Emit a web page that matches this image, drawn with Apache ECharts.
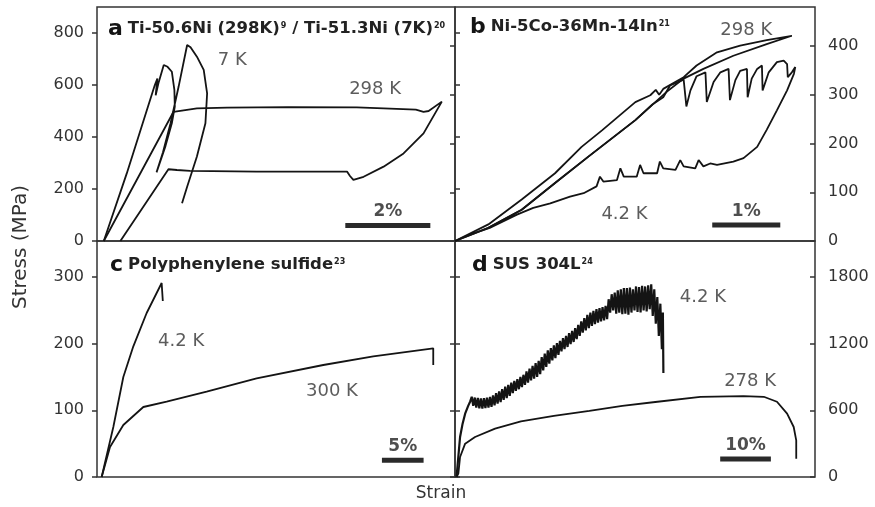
<!DOCTYPE html>
<html>
<head>
<meta charset="utf-8">
<script src="https://cdn.jsdelivr.net/npm/echarts@6/dist/echarts.min.js"></script>
<style>
  html, body { margin: 0; padding: 0; background: #fff; }
  #chart { width: 875px; height: 507px; }
</style>
</head>
<body>
<div id="chart"></div>
<script>
// tick labels of the four stress axes
const aTicks = [0, 200, 400, 600, 800];
const bTicks = [0, 100, 200, 300, 400];
const cTicks = [0, 100, 200, 300];
const dTicks = [0, 600, 1200, 1800];

// a: Ti-Ni, strain (%) / stress (MPa)
const a7K = [[0.16,0],[0.7,260],[1.36,600],[1.42,625],[1.38,560],[1.45,610],[1.57,677],[1.66,670],[1.76,651],[1.82,581],[1.83,517],[1.76,453],[1.61,365],[1.40,264],
  [1.55,340],[1.73,453],[1.92,594],[2.12,754],[2.20,745],[2.35,709],[2.51,658],[2.59,568],[2.55,453],[2.35,325],[2.12,209],[2.0,145]];
const a298K = [[0.16,0],[1.80,497],[1.84,504],[2.35,510],[3.06,513],[4.5,515],[6.11,514],[6.74,510],[7.5,505],[7.68,497],[7.80,500],[8.11,536],
  [7.68,414],[7.21,337],[6.74,286],[6.27,247],[6.03,235],[5.95,250],[5.88,267],[3.76,267],[2.19,270],[1.88,273],[1.68,276],[1.65,273],[0.55,0]];

// b: Ni-Co-Mn-In
const b298K = [[0,0],[0.49,34],[0.98,85],[1.47,139],[1.86,193],[2.16,227],[2.65,285],[2.87,299],[2.95,310],[3.0,300],[3.06,312],[3.36,336],[3.55,360],[3.85,387],[4.19,401],[4.58,412],[4.95,421],
  [4.58,404],[4.09,380],[3.65,353],[3.36,333],[3.11,306],[2.65,248],[1.96,173],[1.47,119],[0.98,64],[0.49,27],[0,0]];
const b42K = [[0,0],[0.49,27],[0.98,64],[1.47,119],[1.96,173],[2.65,248],[2.90,280],[3.06,295],
  [3.16,319],[3.36,331],[3.40,276],[3.46,309],[3.55,338],[3.68,346],[3.70,285],[3.80,326],[3.90,346],[4.02,353],[4.04,289],[4.12,330],[4.19,349],[4.29,353],[4.30,295],
  [4.36,333],[4.44,353],[4.51,360],[4.52,309],[4.61,346],[4.73,367],[4.83,370],[4.88,363],[4.89,336],[4.95,346],[5.00,357],
  [4.98,343],[4.88,309],[4.73,268],[4.58,228],[4.44,193],[4.24,170],[4.09,163],[3.85,156],[3.75,159],[3.65,153],[3.58,166],[3.53,149],[3.36,153],[3.31,166],[3.24,146],
  [3.06,149],[3.01,163],[2.97,139],[2.77,139],[2.72,156],[2.67,132],[2.48,132],[2.43,149],[2.38,125],[2.18,122],[2.13,132],[2.08,112],[1.89,98],[1.69,91],[1.40,77],
  [1.15,68],[0.91,54],[0.51,27],[0.22,13],[0,0]];

// c: polyphenylene sulfide
const c42K = [[0.56,0],[1.96,75],[3.16,150],[4.36,196],[5.96,246],[7.16,276],[7.76,291],[7.9,294],[7.9,264]];
const c300K = [[0.56,0],[1.56,45],[3.16,78],[5.56,105],[8.36,113],[13.16,128],[19.16,148],[27.16,168],[33.16,181],[40.36,193],[40.36,168]];

// d: SUS 304L
const d278K = [[0.3,0],[0.66,30],[1.0,180],[2.0,300],[3.95,360],[7.9,436],[13,500],[19.5,550],[26.5,595],[33,640],[39.5,675],[48.4,722],[56.9,728],[60.9,722],
  [63.5,677],[65.5,571],[66.8,450],[67.3,330],[67.3,164]];
const d42K = [[0.3,0],[0.5,100],[1.0,360],[1.5,480],[2.0,570],[2.6,640],[3.0,680],
  [3.3,722],[3.6,640],[3.9,715],[4.2,625],[4.5,712],[4.8,618],[5.1,708],[5.4,615],[5.7,710],[6.0,620],[6.3,715],[6.6,625],[6.9,720],[7.2,632],
  [7.5,735],[7.8,645],[8.1,755],[8.4,660],[8.7,770],[9.0,675],[9.3,790],[9.6,695],[9.9,813],[10.2,710],[10.5,830],[10.8,730],[11.1,850],[11.4,755],
  [11.7,865],[12.0,775],[12.3,880],[12.6,790],[12.9,900],[13.2,810],[13.5,920],[13.8,830],[14.1,950],[14.4,850],[14.7,975],[15.0,870],[15.3,1000],[15.6,885],
  [15.9,1025],[16.2,900],[16.5,1045],[16.8,925],[17.1,1080],[17.4,960],[17.7,1110],[18.0,990],[18.3,1140],[18.6,1020],[18.9,1160],[19.2,1050],[19.5,1185],
  [19.8,1070],[20.1,1205],[20.4,1100],[20.7,1225],[21.0,1130],[21.3,1250],[21.6,1150],[21.9,1270],[22.2,1170],[22.5,1295],[22.8,1195],[23.1,1315],[23.4,1215],
  [23.7,1340],[24.0,1240],[24.3,1370],[24.6,1270],[24.9,1400],[25.2,1300],[25.5,1430],[25.8,1320],[26.1,1460],[26.4,1340],[26.7,1480],[27.0,1360],[27.3,1495],
  [27.6,1375],[27.9,1510],[28.2,1390],[28.5,1520],[28.8,1400],[29.1,1530],[29.4,1410],[29.7,1540],[30.0,1420],[30.3,1600],[30.6,1480],[30.9,1645],[31.2,1500],
  [31.5,1660],[31.8,1470],[32.1,1680],[32.4,1480],[32.7,1690],[33.0,1465],[33.3,1700],[33.6,1470],[33.9,1700],[34.2,1460],[34.5,1705],[34.8,1480],[35.1,1690],
  [35.4,1500],[35.7,1715],[36.0,1485],[36.3,1710],[36.6,1480],[36.9,1720],[37.2,1500],[37.5,1715],[37.8,1490],[38.1,1725],[38.4,1510],[38.7,1735],[39.0,1450],
  [39.3,1690],[39.6,1380],[39.9,1620],[40.2,1270],[40.5,1560],[40.8,1150],[41.0,1480],[41.1,935]];

// scale bars (strain span) and their labels
const bars = [
  {panel: 0, text: '2%',  from: 5.84, to: 7.84, y: 60},
  {panel: 1, text: '1%',  from: 3.78, to: 4.78, y: 33},
  {panel: 2, text: '5%',  from: 34.2, to: 39.2, y: 25},
  {panel: 3, text: '10%', from: 52.3, to: 62.3, y: 163}
];
// temperature labels
const notes = [
  {panel: 0, text: '7 K',   x: 3.18, y: 696},
  {panel: 0, text: '298 K', x: 6.54, y: 585},
  {panel: 1, text: '298 K', x: 4.28, y: 433},
  {panel: 1, text: '4.2 K', x: 2.49, y: 54},
  {panel: 2, text: '4.2 K', x: 10.1, y: 203},
  {panel: 2, text: '300 K', x: 28.2, y: 129},
  {panel: 3, text: '4.2 K', x: 48.9, y: 1615},
  {panel: 3, text: '278 K', x: 58.2, y: 864}
];

const FONT = 'DejaVu Sans';
const INK = '#141414';
const FRAME = '#333';

let chart = echarts.init(document.getElementById('chart'));

let grids = [
  {left: 97, top: 7, width: 358, height: 234},
  {left: 455, top: 7, width: 360, height: 234},
  {left: 97, top: 241, width: 358, height: 236},
  {left: 455, top: 241, width: 360, height: 236}
];
grids.forEach(g => { g.show = true; g.borderColor = FRAME; g.borderWidth = 1.5; g.backgroundColor = 'transparent'; });

let xMax = [8.42, 5.29, 42.97, 71.0];
let yMax = [900, 480, 354, 2124];
let ticks = [aTicks, bTicks, cTicks, dTicks];

let xAxis = [];
let yAxis = [];
for (let i = 0; i < 4; i++) {
  xAxis.push({
    type: 'value', gridIndex: i, min: 0, max: xMax[i],
    axisLine: {show: false}, axisTick: {show: false}, axisLabel: {show: false}, splitLine: {show: false}
  });
  let labelSide = (i % 2 === 0) ? 'left' : 'right';
  for (let side of ['left', 'right']) {
    let labelled = side === labelSide;
    yAxis.push({
      type: 'value', gridIndex: i, position: side, min: 0, max: yMax[i],
      axisLine: {show: false},
      splitLine: {show: false},
      axisTick: {
        show: true, customValues: ticks[i], length: 5,
        inside: (side === 'right' && labelled),
        lineStyle: {color: FRAME, width: 1.5}
      },
      axisLabel: {
        show: labelled, customValues: ticks[i], margin: 13,
        formatter: v => String(v),
        fontFamily: FONT, fontSize: 16, color: '#333'
      }
    });
  }
}

let series = [];
function curve(panel, data, width) {
  series.push({
    type: 'line', xAxisIndex: panel, yAxisIndex: panel * 2 + (panel % 2),
    data: data, showSymbol: false, smooth: false, animation: false,
    lineStyle: {color: INK, width: width || 1.8}
  });
}
curve(0, a7K);
curve(0, a298K);
curve(1, b298K);
curve(1, b42K);
curve(2, c42K);
curve(2, c300K);
curve(3, d278K);
curve(3, d42K, 2.2);

for (let b of bars) {
  let ax = b.panel * 2 + (b.panel % 2);
  series.push({
    type: 'line', xAxisIndex: b.panel, yAxisIndex: ax, animation: false,
    data: [[b.from, b.y], [b.to, b.y]], showSymbol: false,
    lineStyle: {color: '#2a2a2a', width: 5, cap: 'butt'}
  });
  series.push({
    type: 'scatter', xAxisIndex: b.panel, yAxisIndex: ax, symbolSize: 0, animation: false,
    data: [{value: [(b.from + b.to) / 2, b.y], name: b.text}],
    label: {show: true, position: 'top', distance: 5, formatter: '{b}',
      fontFamily: FONT, fontSize: 17, fontWeight: 'bold', color: '#222'}
  });
}

for (let n of notes) {
  series.push({
    type: 'scatter', xAxisIndex: n.panel, yAxisIndex: n.panel * 2 + (n.panel % 2), symbolSize: 0, animation: false,
    data: [{value: [n.x, n.y], name: n.text}],
    label: {show: true, position: 'inside', formatter: '{b}',
      fontFamily: FONT, fontSize: 18, color: '#333'}
  });
}

// panel headings with superscript reference numbers
let rich = {
  l: {fontFamily: FONT, fontSize: 22, fontWeight: 'bold', color: INK},
  t: {fontFamily: FONT, fontSize: 16.5, fontWeight: 'bold', color: '#222'},
  s: {fontFamily: FONT, fontSize: 8, fontWeight: 'bold', color: '#222', verticalAlign: 'top', padding: [4, 0, 0, 1]}
};
let titles = [
  {left: 108, top: 18, text: '{l|a} {t|Ti-50.6Ni (298K)}{s|9}{t| / Ti-51.3Ni (7K)}{s|20}'},
  {left: 470, top: 16, text: '{l|b} {t|Ni-5Co-36Mn-14In}{s|21}'},
  {left: 110, top: 254, text: '{l|c} {t|Polyphenylene sulfide}{s|23}'},
  {left: 472, top: 254, text: '{l|d} {t|SUS 304L}{s|24}'}
];
titles.forEach(t => { t.textStyle = {rich: rich}; t.padding = 0; });

let option = {
  backgroundColor: '#fff',
  animation: false,
  title: titles,
  grid: grids,
  xAxis: xAxis,
  yAxis: yAxis,
  series: series,
  graphic: [
    {type: 'text', x: 21, y: 247, rotation: Math.PI / 2,
      style: {text: 'Stress (MPa)', fontFamily: FONT, fontSize: 20, fill: '#333', textAlign: 'center', textVerticalAlign: 'middle'}},
    {type: 'text', x: 441, y: 494,
      style: {text: 'Strain', fontFamily: FONT, fontSize: 17, fill: '#333', textAlign: 'center', textVerticalAlign: 'middle'}}
  ]
};
chart.setOption(option);
</script>
</body>
</html>
